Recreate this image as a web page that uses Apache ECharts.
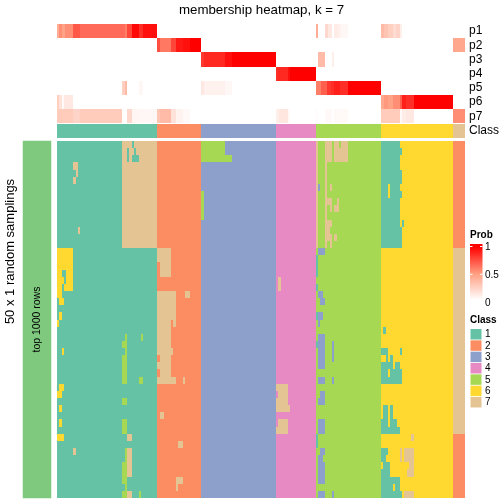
<!DOCTYPE html>
<html>
<head>
<meta charset="utf-8">
<style>html,body{margin:0;padding:0;background:#fff}#c{width:504px;height:504px}</style>
<script src="https://cdn.jsdelivr.net/npm/echarts@6/dist/echarts.min.js"></script>
</head>
<body>
<div id="c"></div>
<script>
const FONT = 'Liberation Sans';
const titleText = 'membership heatmap, k = 7';
const sideTitle = '50 x 1 random samplings';
const rowGroupLabel = 'top 1000 rows';
const probNames = ['p1','p2','p3','p4','p5','p6','p7'];
const classNames = ['1','2','3','4','5','6','7'];
const classColors = ['#66C2A5','#FC8D62','#8DA0CB','#E78AC3','#A6D854','#FFD92F','#E5C494'];
const probColors = ['#FFFFFF','#FF9E81','#FF0000'];
const probTicks = ['1','0.5','0'];
const classSizes = [100,44,75,40,65,72,12];
const rowCount = 50;

// membership probability: [fromColumn, toColumn, value]
const p1Runs = [[0,2,.42],[2,5,.55],[5,8,.48],[8,16,.55],[16,23,.72],[23,68,.66],[68,70,.6],[70,75,.78],[75,82,.97],[82,86,.85],[86,100,.95],
  [259,261,.42],[268,271,.2],[271,275,.12],[277,281,.1],[281,284,.07],[284,291,.04],[324,327,.35],[327,331,.3],[331,336,.25],[336,339,.18],[339,343,.22],[343,345,.08]];
const p2Runs = [[100,103,.75],[103,114,.62],[114,119,.78],[119,126,.92],[126,133,.95],[133,144,1],[396,408,.45]];
const p3Runs = [[144,147,.82],[147,168,.87],[168,175,.95],[175,219,1],[261,268,.35],[275,277,.08]];
const p4Runs = [[219,221,.85],[221,231,.87],[231,233,.95],[233,259,1]];
const p5Runs = [[65,68,.25],[68,70,.35],[82,86,.04],[144,147,.12],[147,168,.07],[168,175,.04],
  [259,264,.6],[264,270,.7],[270,274,.82],[274,277,.85],[277,283,.9],[283,291,.85],[291,324,1]];
const p6Runs = [[0,2,.25],[2,5,.15],[5,7,.03],[7,16,.12],[324,327,.45],[327,331,.52],[331,336,.48],[336,343,.55],[343,345,.7],[345,349,.9],[349,357,.85],[357,396,1]];
const p7Runs = [[0,16,.27],[16,23,.22],[23,65,.27],[70,75,.2],[75,82,.05],[82,100,.04],[100,103,.3],[103,114,.35],[114,119,.15],[119,126,.06],[126,133,.03],
  [219,222,.08],[222,231,.13],[231,233,.03],[259,261,.02],[268,275,.03],[277,291,.03],[324,343,.27],[343,345,.03],[345,349,.1],[349,357,.12],[396,408,.55]];
const allProbRuns = [p1Runs,p2Runs,p3Runs,p4Runs,p5Runs,p6Runs,p7Runs];

// sampled class that differs from consensus: [fromRow, toRow, fromColumn, toColumn, class]
const editsTan = [
  [0,15,65,100,7],
  [3,4,16,21,7],[4,5,19,21,7],[5,6,16,19,7],[12,13,21,23,7],[43,44,16,19,7],[41,42,70,75,7],[43,47,70,75,7],[49,50,70,75,7],
  [15,17,100,114,7],[17,19,103,114,7],[21,25,100,119,7],[21,22,128,133,7],[25,26,100,114,7],[25,26,116,119,7],[26,29,100,114,7],[29,30,100,116,7],[30,31,103,114,7],[31,32,100,114,7],[32,33,103,114,7],[33,34,100,119,7],[33,34,126,128,7],
  [38,39,103,107,7],[42,43,121,126,7],[47,48,119,126,7],[48,49,119,121,7],
  [19,21,221,224,7],[34,35,219,231,7],[35,36,221,231,7],[36,37,219,231,7],[37,38,219,233,7],[39,40,221,231,7],[40,41,219,231,7],
  [0,15,259,261,7],[0,3,268,275,7],[0,1,277,282,7],[0,1,284,291,7],[1,3,277,291,7],[3,15,268,270,7],[6,7,273,275,7],[8,9,270,275,7],[8,9,280,282,7],[9,10,273,275,7],[9,10,277,282,7],[11,12,270,275,7],[12,13,270,273,7],[13,14,270,275,7],[13,14,277,280,7],[14,15,273,275,7],
  [41,42,354,357,7],[43,45,343,345,7],[43,45,347,357,7],[45,46,352,357,7],[46,47,350,357,7],[49,50,347,357,7],
  [15,41,396,408,7]];
const editsTealInTan = [[0,1,75,77,1],[1,3,70,72,1],[1,2,77,79,1],[2,3,75,82,1]];
const editsYellow = [
  [15,21,0,16,6],[21,22,0,5,6],[22,23,2,7,6],[24,25,2,5,6],[25,26,0,2,6],[29,30,5,7,6],[34,35,2,7,6],[35,36,0,5,6],[37,38,2,5,6],[39,40,2,5,6],[41,42,0,7,6]];
const editsTealInYellow = [[18,19,5,9,1],[19,20,7,9,1],[20,21,5,7,1]];
const editsGreen = [
  [27,28,68,70,5],[27,28,84,86,5],[28,29,65,70,5],[29,30,68,70,5],[30,34,65,70,5],[33,34,82,86,5],[36,37,65,70,5],[39,41,65,70,5],[43,45,68,70,5],[45,48,65,70,5],[48,49,68,70,5],[49,50,65,70,5],[49,50,82,84,5],
  [0,2,144,168,5],[2,3,144,175,5],[7,11,144,147,5]];
const editsOrange = [[0,15,396,408,2],[41,50,396,408,2]];
const editsBlue = [
  [6,7,261,263,3],[15,16,261,268,3],[21,22,261,266,3],[22,23,263,268,3],[24,25,261,266,3],[25,26,261,263,3],[27,32,261,268,3],[28,31,275,277,3],[33,34,261,268,3],[33,34,275,277,3],[35,36,263,268,3],[36,37,261,268,3],[39,41,261,268,3],[43,44,263,268,3],[44,45,261,266,3],[45,48,261,268,3],[49,50,261,268,3],[49,50,275,277,3]];
const editsTealInGreen = [[16,19,259,261,1],[20,21,259,261,1],[24,25,259,261,1],[28,29,259,261,1],[41,43,259,261,1]];
const editsTealInGold = [
  [0,15,324,343,1],[1,2,343,345,1],[4,6,343,345,1],[7,8,343,345,1],[11,12,345,347,1],[12,15,343,345,1],
  [26,27,326,329,1],[29,30,324,331,1],[29,30,343,345,1],[30,31,329,331,1],[30,31,333,336,1],[31,32,324,336,1],[31,32,338,343,1],[32,33,324,331,1],[32,33,333,345,1],[33,34,324,345,1],
  [37,39,326,331,1],[37,39,333,336,1],[39,40,324,331,1],[39,40,333,340,1],[40,41,324,343,1],
  [43,44,324,331,1],[44,45,324,329,1],[45,46,326,333,1],[46,47,324,333,1],[47,48,324,343,1],[48,49,324,336,1],[48,49,338,343,1],[49,50,324,345,1]];
const editsYellowInTeal = [[6,8,331,333,6]];
const allEdits = [editsTan,editsTealInTan,editsYellow,editsTealInYellow,editsGreen,editsOrange,editsBlue,editsTealInGreen,editsTealInGold,editsYellowInTeal];

const columnCount = classSizes.reduce((a,b)=>a+b,0);
const consensus = [];
classSizes.forEach((n,i)=>{ for(let k=0;k<n;k++) consensus.push(i+1); });

const matrix = [];
for(let r=0;r<rowCount;r++) matrix.push(consensus.slice());
allEdits.forEach(list=>list.forEach(([r0,r1,c0,c1,v])=>{
  for(let r=r0;r<r1;r++) for(let c=c0;c<c1;c++) matrix[r][c]=v;
}));

const mainData=[];
matrix.forEach((row,r)=>row.forEach((v,c)=>mainData.push([c,r,v])));
const classData=consensus.map((v,c)=>[c,0,v]);
const probData=[];
allProbRuns.forEach((runs,r)=>runs.forEach(([a,b,v])=>{for(let c=a;c<b;c++)probData.push([c,r,v]);}));

const cols=Array.from({length:columnCount},(_,i)=>String(i));
const rows=Array.from({length:rowCount},(_,i)=>String(i));
const hiddenAxis=(extra)=>Object.assign({type:'category',show:false,boundaryGap:true},extra);
const labelAxis=(data)=>({type:'category',data,inverse:true,position:'right',
  axisLine:{show:false},axisTick:{show:false},splitLine:{show:false},
  axisLabel:{show:true,margin:4,padding:[3,0,0,0],fontFamily:FONT,fontSize:12,color:'#000',interval:0}});
const pieces=classColors.map((color,i)=>({value:i+1,color}));

// pixel-snapped heat cells: sharp edges like the raster image in the original
const snappedCell=(params,api)=>{
  const c=api.coord([api.value(0),api.value(1)]);
  const s=api.size([1,1]);
  const x0=Math.round(c[0]-s[0]/2),x1=Math.round(c[0]+s[0]/2);
  const y0=Math.round(c[1]-s[1]/2),y1=Math.round(c[1]+s[1]/2);
  return {type:'rect',shape:{x:x0,y:y0,width:x1-x0,height:y1-y0},
    style:{fill:api.visual('color')}};
};

const chart=echarts.init(document.getElementById('c'),null,{renderer:'canvas'});
const graphics=[
  {type:'text',x:261.5,y:10,style:{text:titleText,fontFamily:FONT,fontSize:13.3,fill:'#000',align:'center',verticalAlign:'middle'}},
  {type:'text',x:10.5,y:251.5,rotation:Math.PI/2,style:{text:sideTitle,fontFamily:FONT,fontSize:13,fill:'#000',align:'center',verticalAlign:'middle'}},
  {type:'text',x:470,y:235,style:{text:'Prob',fontFamily:FONT,fontWeight:'bold',fontSize:10,fill:'#000',verticalAlign:'middle'}},
  {type:'rect',shape:{x:470,y:244,width:12.5,height:56},style:{fill:{type:'linear',x:0,y:0,x2:0,y2:1,colorStops:[
    {offset:0,color:probColors[2]},{offset:.05,color:probColors[2]},{offset:.53,color:probColors[1]},{offset:1,color:probColors[0]}]}}},
  {type:'text',x:470,y:320.5,style:{text:'Class',fontFamily:FONT,fontWeight:'bold',fontSize:10,fill:'#000',verticalAlign:'middle'}}
];
[246.5,274.3].forEach(y=>{
  graphics.push({type:'rect',shape:{x:470,y:y-.5,width:2.5,height:1},style:{fill:'#fff'}});
  graphics.push({type:'rect',shape:{x:480,y:y-.5,width:2.5,height:1},style:{fill:'#fff'}});
});
probTicks.forEach((t,i)=>graphics.push({type:'text',x:485,y:[247.5,275,303][i],style:{text:t,fontFamily:FONT,fontSize:10,fill:'#000',verticalAlign:'middle'}}));
classNames.forEach((t,i)=>{
  const y=329+i*11.33;
  graphics.push({type:'rect',shape:{x:470.5,y:y,width:11,height:10.5},style:{fill:classColors[i]}});
  graphics.push({type:'text',x:485,y:y+5.5,style:{text:t,fontFamily:FONT,fontSize:10,fill:'#000',verticalAlign:'middle'}});
});

const base={type:'custom',renderItem:snappedCell,animation:false,silent:true,progressive:0,encode:{x:0,y:1}};
chart.setOption({
  animation:false,
  backgroundColor:'#fff',
  grid:[
    {left:57,top:24,width:408,height:99.3},
    {left:57,top:124,width:408,height:14},
    {left:57,top:141,width:408,height:357},
    {left:23,top:141,width:28,height:357}
  ],
  xAxis:[
    hiddenAxis({gridIndex:0,data:cols}),
    hiddenAxis({gridIndex:1,data:cols}),
    hiddenAxis({gridIndex:2,data:cols}),
    hiddenAxis({gridIndex:3,data:['a']})
  ],
  yAxis:[
    Object.assign(labelAxis(probNames),{gridIndex:0}),
    Object.assign(labelAxis(['Class']),{gridIndex:1}),
    hiddenAxis({gridIndex:2,data:rows,inverse:true}),
    hiddenAxis({gridIndex:3,data:['a']})
  ],
  visualMap:[
    {type:'continuous',show:false,seriesIndex:0,dimension:2,min:0,max:1,inRange:{color:probColors}},
    {type:'piecewise',show:false,seriesIndex:[1,2],dimension:2,pieces}
  ],
  graphic:graphics,
  series:[
    Object.assign({},base,{xAxisIndex:0,yAxisIndex:0,data:probData}),
    Object.assign({},base,{xAxisIndex:1,yAxisIndex:1,data:classData}),
    Object.assign({},base,{xAxisIndex:2,yAxisIndex:2,data:mainData}),
    {type:'heatmap',silent:true,xAxisIndex:3,yAxisIndex:3,data:[[0,0,1]],itemStyle:{color:'#7FC97F'},
      label:{show:true,formatter:rowGroupLabel,rotate:90,fontFamily:FONT,fontSize:10.5,color:'#000'}}
  ]
});
</script>
</body>
</html>
